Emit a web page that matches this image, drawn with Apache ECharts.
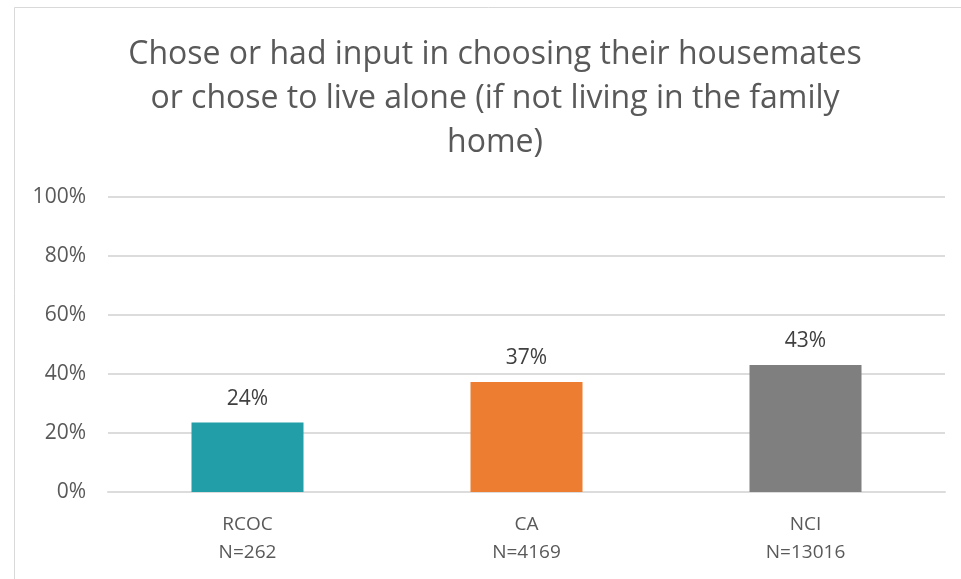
<!DOCTYPE html>
<html>
<head>
<meta charset="utf-8">
<script src="https://cdn.jsdelivr.net/npm/echarts@6/dist/echarts.min.js"></script>
<style>
    html, body {
        margin: 0;
        padding: 0;
        background: #ffffff;
    }
    #main {
        width: 961px;
        height: 579px;
    }
</style>
</head>
<body>
<div id="main"></div>
<script>
// data
var groups = ['RCOC', 'CA', 'NCI'];
var counts = [262, 4169, 13016];
var shares = [23.6, 37.3, 43.05];
var barColors = ['#219ea7', '#ed7d31', '#7f7f7f'];
var titleLines = [
    'Chose or had input in choosing their housemates',
    'or chose to live alone (if not living in the family',
    'home)'
];

var categories = groups.map(function (g, i) {
    return g + '\nN=' + counts[i];
});

var myChart = echarts.init(document.getElementById('main'));

var option = {
    animation: false,
    textStyle: {
        fontFamily: '"Open Sans", sans-serif'
    },
    title: {
        text: titleLines.join('\n'),
        left: 495,
        top: 33,
        textAlign: 'center',
        padding: 0,
        textStyle: {
            fontSize: 32,
            fontWeight: 'normal',
            color: '#595959',
            lineHeight: 44,
            fontFamily: '"Open Sans", sans-serif'
        }
    },
    // chart frame
    graphic: [
        {
            type: 'rect',
            silent: true,
            shape: { x: 14.5, y: 7.5, width: 1000, height: 1000 },
            style: { fill: null, stroke: '#d9d9d9', lineWidth: 1 }
        }
    ],
    grid: {
        left: 108,
        right: 16,
        top: 197,
        bottom: 87
    },
    xAxis: {
        type: 'category',
        data: categories,
        axisTick: { show: false },
        axisLine: { lineStyle: { color: '#dcdcdc', width: 2 } },
        axisLabel: {
            color: '#595959',
            fontSize: 19,
            lineHeight: 28,
            margin: 19
        }
    },
    yAxis: {
        type: 'value',
        min: 0,
        max: 100,
        interval: 20,
        axisLine: { show: false },
        axisTick: { show: false },
        splitLine: { lineStyle: { color: '#dcdcdc', width: 2 } },
        axisLabel: {
            color: '#595959',
            fontSize: 21,
            margin: 22,
            formatter: '{value}%'
        }
    },
    series: [
        {
            name: 'share',
            type: 'bar',
            barWidth: 112,
            data: shares.map(function (v, i) {
                return { value: v, itemStyle: { color: barColors[i] } };
            }),
            label: {
                show: true,
                position: 'top',
                distance: 13,
                color: '#404040',
                fontSize: 21,
                backgroundColor: '#ffffff',
                padding: [0, 8],
                formatter: function (p) {
                    return Math.round(p.value) + '%';
                }
            }
        }
    ]
};

myChart.setOption(option);
</script>
</body>
</html>
